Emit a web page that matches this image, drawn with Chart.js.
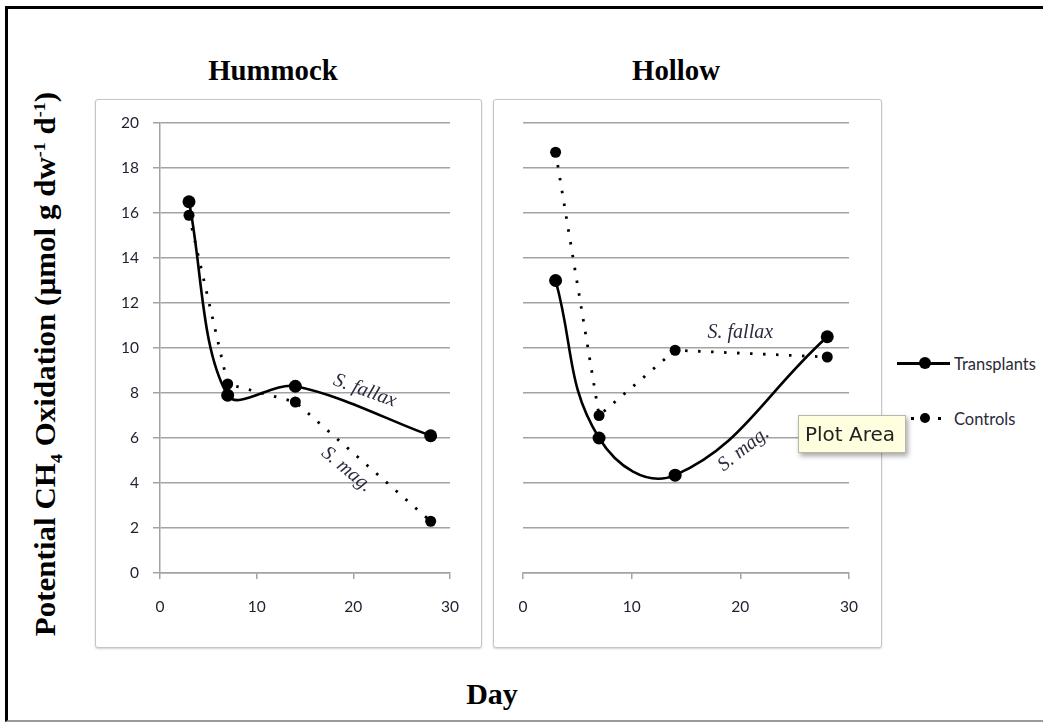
<!DOCTYPE html>
<html>
<head>
<meta charset="utf-8">
<title>Potential CH4 oxidation - Hummock / Hollow</title>
<script src="https://cdn.jsdelivr.net/npm/chart.js@4.4.1/dist/chart.umd.min.js"></script>
<style>
  html, body { margin: 0; padding: 0; background: #fff; }
  body { width: 1043px; height: 723px; position: relative; overflow: hidden; }
  .frame { position: absolute; left: 5px; top: 6px; width: 1060px; height: 711px;
           border-left: 3px solid #000; border-top: 3px solid #000; border-bottom: 2px solid #9a9a9a; }
  .panel { position: absolute; top: 99px; height: 549px; box-sizing: border-box;
           border: 1.5px solid #c6c6c6; border-radius: 3px; box-shadow: 0 1px 2px rgba(0,0,0,0.18); background: #fff; }
  canvas { position: absolute; }
  .serif { position: absolute; font-family: "Liberation Serif", "Times New Roman", serif; font-weight: bold; color: #000; white-space: nowrap; }
  .title { top: 53px; font-size: 30px; transform: translateX(-50%) scaleX(0.96); }
  .ytitle { left: 48px; top: 364px; font-size: 31px; transform: translate(-50%, -50%) rotate(-90deg) scaleY(0.92); }
  .ytitle sub, .ytitle sup { font-size: 18px; }
  .day { left: 492px; top: 677px; font-size: 30px; transform: translateX(-50%); }
  .legend-text { position: absolute; font-family: Lato, "Open Sans", sans-serif; font-size: 16.5px; color: #2a2a3a; transform: translateY(-50%); }
  .lg-line { position: absolute; height: 2.5px; background: #000; }
  .lg-dot { position: absolute; background: #000; border-radius: 50%; }
  .tip { position: absolute; left: 798px; top: 415px; width: 108px; height: 38px; box-sizing: border-box;
         background: #ffffe0; border: 1px solid #b8b8a8; box-shadow: 2px 3px 5px rgba(0,0,0,0.35);
         font-family: "DejaVu Sans", sans-serif; font-size: 20px; color: #222; line-height: 36px; padding-left: 6px; }
</style>
</head>
<body>
<div class="frame"></div>

<div class="serif title" style="left:273px">Hummock</div>
<div class="serif title" style="left:676px">Hollow</div>
<div class="serif ytitle">Potential CH<sub>4</sub> Oxidation (µmol g dw<sup>-1</sup> d<sup>-1</sup>)</div>
<div class="serif day">Day</div>

<div class="panel" style="left:95px; width:387px"></div>
<div class="panel" style="left:493px; width:389px"></div>
<canvas id="hummock" width="387" height="549" style="left:95px; top:99px"></canvas>
<canvas id="hollow" width="389" height="549" style="left:493px; top:99px"></canvas>

<!-- legend -->
<div class="lg-line" style="left:897px; top:362px; width:53px"></div>
<div class="lg-dot" style="left:919px; top:357px; width:12px; height:12px"></div>
<div class="legend-text" style="left:954px; top:364px">Transplants</div>
<div class="lg-dot" style="left:897px; top:417px; width:3px; height:3px; border-radius:0"></div>
<div class="lg-dot" style="left:911px; top:417px; width:3px; height:3px; border-radius:0"></div>
<div class="lg-dot" style="left:920px; top:413px; width:10px; height:10px"></div>
<div class="lg-dot" style="left:938px; top:417px; width:3px; height:3px; border-radius:0"></div>
<div class="legend-text" style="left:954px; top:419px">Controls</div>

<div class="tip">Plot Area</div>

<script>
// Sampling days
const days = [3, 7, 14, 28];

// Potential CH4 oxidation, Hummock
const hummockTransplants = [16.5, 7.9, 8.3, 6.1];
const hummockControls = [15.9, 8.4, 7.6, 2.3];

// Potential CH4 oxidation, Hollow
const hollowTransplants = [13.0, 6.0, 4.35, 10.5];
const hollowControls = [18.7, 7.0, 9.9, 9.6];

// Axis ticks
const xTicks = [0, 10, 20, 30];
const yTicks = [0, 2, 4, 6, 8, 10, 12, 14, 16, 18, 20];

// Species labels written next to the lines (day, value, rotation)
const hummockNotes = [
  { text: "S. fallax", day: 21.2, value: 8.1, angle: 20 },
  { text: "S. mag.", day: 19.3, value: 4.6, angle: 40 },
];
const hollowNotes = [
  { text: "S. fallax", day: 20.0, value: 10.7, angle: 0 },
  { text: "S. mag.", day: 20.3, value: 5.5, angle: -38 },
];

const GRID = "#a3a3a3";
const TICK_FONT = { family: "Lato, 'Open Sans', sans-serif", size: 15.5 };
const TICK_COLOR = "#1f1f30";

const toPoints = (values) => days.map((d, i) => ({ x: d, y: values[i] }));

// Draws the italic species names on the plot
const speciesNotes = {
  id: "speciesNotes",
  afterDatasetsDraw(chart, args, opts) {
    const { ctx, scales } = chart;
    (opts.notes || []).forEach((n) => {
      ctx.save();
      ctx.translate(scales.x.getPixelForValue(n.day), scales.y.getPixelForValue(n.value));
      ctx.rotate((n.angle * Math.PI) / 180);
      ctx.font = "italic 20px 'Liberation Serif', serif";
      ctx.fillStyle = "#2c2c40";
      ctx.textAlign = "center";
      ctx.textBaseline = "middle";
      ctx.fillText(n.text, 0, 0);
      ctx.restore();
    });
  },
};

const makeChart = (id, transplants, controls, notes, withYAxis, rightPad, smooth) => {
  const ctx = document.getElementById(id).getContext("2d");
  return new Chart(ctx, {
    type: "line",
    data: {
      datasets: [
        {
          label: "Transplants",
          data: toPoints(transplants),
          borderColor: "#000",
          backgroundColor: "#000",
          borderWidth: 2.6,
          tension: smooth,
          pointRadius: 6.5,
          pointBorderWidth: 0,
        },
        {
          label: "Controls",
          data: toPoints(controls),
          borderColor: "#000",
          backgroundColor: "#000",
          borderWidth: 2.8,
          borderDash: [2.5, 10.5],
          tension: 0,
          pointRadius: 5.5,
          pointBorderWidth: 0,
        },
      ],
    },
    options: {
      responsive: false,
      animation: false,
      events: [],
      layout: { padding: { top: 24, right: rightPad, left: 0, bottom: 0 } },
      plugins: {
        legend: { display: false },
        tooltip: { enabled: false },
        speciesNotes: { notes },
      },
      scales: {
        x: {
          type: "linear",
          min: 0,
          max: 30,
          afterBuildTicks: (s) => { s.ticks = xTicks.map((v) => ({ value: v })); },
          afterFit: (s) => { s.height = 75; },
          grid: { drawOnChartArea: false, color: GRID, lineWidth: 1.5, tickLength: 6 },
          border: { color: GRID, width: 1.5 },
          ticks: { font: TICK_FONT, color: TICK_COLOR, padding: 19, maxRotation: 0 },
        },
        y: {
          min: 0,
          max: 20,
          afterBuildTicks: (s) => { s.ticks = yTicks.map((v) => ({ value: v })); },
          afterFit: (s) => { s.width = withYAxis ? 65 : 30; },
          grid: { color: GRID, lineWidth: 1.5, tickLength: 7, drawTicks: withYAxis },
          border: { display: withYAxis, color: GRID, width: 1.5 },
          ticks: { display: withYAxis, font: TICK_FONT, color: TICK_COLOR, padding: 14 },
        },
      },
    },
    plugins: [speciesNotes],
  });
};

makeChart("hummock", hummockTransplants, hummockControls, hummockNotes, true, 32, 0.34);
makeChart("hollow", hollowTransplants, hollowControls, hollowNotes, false, 33, 0.42);
</script>
</body>
</html>
